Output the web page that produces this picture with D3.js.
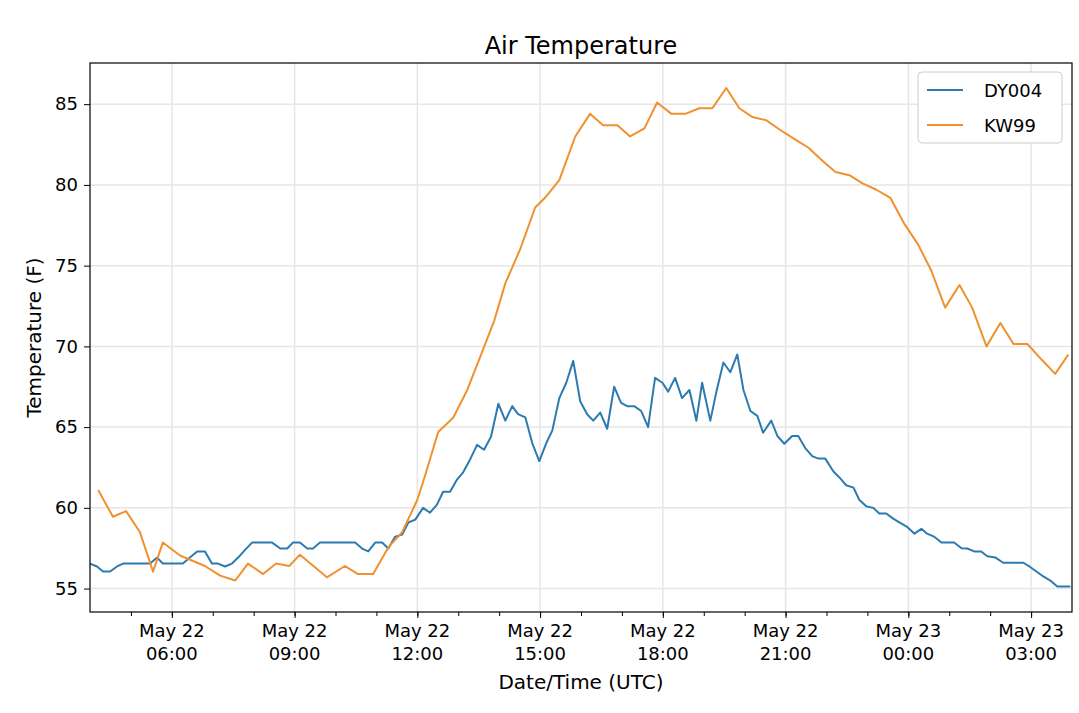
<!DOCTYPE html>
<html>
<head>
<meta charset="UTF-8">
<script src="https://d3js.org/d3.v7.min.js"></script>
<style>
  body { margin: 0; background: #fff; }
  svg { font-family: "DejaVu Sans", sans-serif; }
</style>
</head>
<body>
<svg width="1079" height="713"></svg>
<script>
// hours after 2019-05-22 00:00 UTC
const dyHours = [4.00,4.17,4.32,4.49,4.66,4.81,5.47,5.64,5.78,6.27,6.44,6.62,6.81,6.98,7.13,7.30,7.47,7.62,7.79,7.96,8.45,8.65,8.82,8.96,9.13,9.31,9.45,9.62,10.48,10.65,10.80,10.97,11.14,11.29,11.46,11.63,11.78,11.95,12.14,12.31,12.48,12.63,12.80,12.97,13.12,13.29,13.46,13.63,13.80,13.98,14.15,14.32,14.46,14.64,14.81,14.98,15.15,15.30,15.47,15.64,15.81,15.98,16.15,16.30,16.47,16.64,16.81,16.98,17.13,17.30,17.47,17.64,17.81,17.99,18.13,18.30,18.47,18.65,18.82,18.96,19.16,19.31,19.48,19.65,19.82,19.97,20.14,20.31,20.45,20.65,20.80,20.97,21.16,21.31,21.48,21.65,21.80,21.97,22.17,22.31,22.48,22.66,22.80,22.97,23.14,23.29,23.46,23.63,23.78,23.98,24.15,24.32,24.46,24.64,24.81,25.12,25.30,25.44,25.61,25.78,25.93,26.13,26.32,26.81,26.96,27.13,27.30,27.47,27.64,27.96];
const dyTemps = [56.55,56.37,56.06,56.06,56.37,56.55,56.55,56.92,56.55,56.55,56.92,57.3,57.3,56.55,56.55,56.37,56.55,56.92,57.4,57.85,57.85,57.48,57.48,57.85,57.85,57.48,57.48,57.85,57.85,57.48,57.3,57.85,57.85,57.48,58.22,58.34,59.09,59.27,60.0,59.7,60.2,61.0,61.0,61.75,62.2,63.0,63.9,63.6,64.4,66.45,65.4,66.3,65.8,65.6,64.0,62.9,64.0,64.8,66.8,67.75,69.1,66.6,65.8,65.4,65.9,64.9,67.5,66.5,66.3,66.3,66.0,65.0,68.05,67.75,67.2,68.05,66.8,67.3,65.4,67.75,65.4,67.2,69.0,68.4,69.5,67.3,66.0,65.7,64.65,65.4,64.45,63.97,64.45,64.45,63.7,63.2,63.05,63.05,62.25,61.9,61.4,61.25,60.5,60.1,60.0,59.65,59.65,59.33,59.1,58.8,58.4,58.7,58.4,58.2,57.85,57.85,57.5,57.48,57.3,57.3,57.0,56.92,56.6,56.6,56.37,56.06,55.75,55.5,55.13,55.13];

const kwHours = [4.20,4.56,4.88,5.22,5.54,5.78,6.20,6.81,7.18,7.55,7.86,8.23,8.55,8.87,9.13,9.79,10.23,10.55,10.92,11.29,11.63,12.00,12.19,12.51,12.88,13.22,13.56,13.88,14.15,14.51,14.88,15.12,15.47,15.86,16.22,16.54,16.89,17.20,17.55,17.86,18.21,18.55,18.89,19.21,19.55,19.87,20.19,20.53,20.87,21.24,21.56,21.90,22.22,22.56,22.88,23.22,23.56,23.90,24.24,24.56,24.90,25.25,25.56,25.91,26.25,26.57,26.91,27.25,27.59,27.91];
const kwTemps = [61.1,59.45,59.8,58.5,56.05,57.85,57.05,56.4,55.8,55.5,56.55,55.9,56.55,56.4,57.1,55.7,56.4,55.9,55.9,57.55,58.5,60.5,62.0,64.7,65.6,67.3,69.5,71.6,73.9,76.0,78.6,79.2,80.3,83.0,84.4,83.7,83.7,83.0,83.5,85.1,84.4,84.4,84.75,84.75,86.0,84.75,84.2,84.0,83.4,82.8,82.3,81.5,80.8,80.6,80.1,79.7,79.2,77.6,76.3,74.7,72.4,73.8,72.4,70.0,71.45,70.15,70.15,69.2,68.3,69.5];

const seriesNames = ["DY004", "KW99"];
const seriesColors = ["#2c7bb0", "#f0912e"];
const yTicks = [55, 60, 65, 70, 75, 80, 85];

const base = Date.UTC(2019, 4, 22);
const toDate = h => new Date(base + h * 3600000);

const svg = d3.select("svg");
const margin = { top: 63, right: 7, bottom: 101, left: 90 };
const W = 1079, H = 713;

const x = d3.scaleUtc()
  .domain([toDate(4), toDate(28)])
  .range([margin.left, W - margin.right]);
const y = d3.scaleLinear()
  .domain([53.55, 87.55])
  .range([H - margin.bottom, margin.top]);

const majors = d3.range(6, 28, 3).map(toDate);
const minors = d3.range(5, 28, 1).map(toDate);

// grid
svg.append("g").selectAll("line").data(majors).join("line")
  .attr("x1", d => x(d)).attr("x2", d => x(d))
  .attr("y1", margin.top).attr("y2", H - margin.bottom)
  .attr("stroke", "#e6e6e6").attr("stroke-width", 1.5);
svg.append("g").selectAll("line").data(yTicks).join("line")
  .attr("x1", margin.left).attr("x2", W - margin.right)
  .attr("y1", d => y(d)).attr("y2", d => y(d))
  .attr("stroke", "#e6e6e6").attr("stroke-width", 1.5);

// lines
const line = d3.line().x(d => x(toDate(d[0]))).y(d => y(d[1]));
const series = [d3.zip(dyHours, dyTemps), d3.zip(kwHours, kwTemps)];
series.forEach((s, i) => {
  svg.append("path").datum(s)
    .attr("fill", "none").attr("stroke", seriesColors[i])
    .attr("stroke-width", 2).attr("stroke-linejoin", "round")
    .attr("d", line);
});

// frame
svg.append("rect")
  .attr("x", margin.left).attr("y", margin.top)
  .attr("width", W - margin.left - margin.right)
  .attr("height", H - margin.top - margin.bottom)
  .attr("fill", "none").attr("stroke", "#000").attr("stroke-width", 1.2);

// x axis
const xg = svg.append("g").attr("transform", `translate(0,${H - margin.bottom})`);
xg.call(d3.axisBottom(x).tickValues(minors).tickSize(4).tickFormat(""));
const xMaj = svg.append("g").attr("transform", `translate(0,${H - margin.bottom})`)
  .call(d3.axisBottom(x).tickValues(majors).tickSize(6).tickFormat(""));
[xg, xMaj].forEach(g => { g.select(".domain").remove(); g.selectAll("line").attr("stroke", "#000"); });
const fmtD = d3.utcFormat("%b %d"), fmtT = d3.utcFormat("%H:%M");
const lbl = svg.append("g").selectAll("text").data(majors).join("text")
  .attr("x", d => x(d)).attr("text-anchor", "middle")
  .attr("font-size", 18).attr("fill", "#000");
lbl.append("tspan").attr("x", d => x(d)).attr("y", 637).text(fmtD);
lbl.append("tspan").attr("x", d => x(d)).attr("y", 660).text(fmtT);

// y axis
const yg = svg.append("g").attr("transform", `translate(${margin.left},0)`)
  .call(d3.axisLeft(y).tickValues(yTicks).tickSize(6).tickPadding(6));
yg.select(".domain").remove();
yg.selectAll("line").attr("stroke", "#000");
yg.selectAll("text").attr("font-size", 18).attr("fill", "#000")
  .attr("font-family", "DejaVu Sans, sans-serif");

// labels
svg.append("text").attr("x", (margin.left + W - margin.right) / 2).attr("y", 54)
  .attr("text-anchor", "middle").attr("font-size", 24).text("Air Temperature");
svg.append("text").attr("x", (margin.left + W - margin.right) / 2).attr("y", 689)
  .attr("text-anchor", "middle").attr("font-size", 20).text("Date/Time (UTC)");
svg.append("text").attr("transform", `translate(41,${(margin.top + H - margin.bottom) / 2}) rotate(-90)`)
  .attr("text-anchor", "middle").attr("font-size", 20).text("Temperature (F)");

// legend
const lg = svg.append("g").attr("transform", "translate(918,72)");
lg.append("rect").attr("width", 144).attr("height", 71).attr("rx", 4)
  .attr("fill", "#fff").attr("stroke", "#ccc");
seriesNames.forEach((n, i) => {
  lg.append("line").attr("x1", 9).attr("x2", 45).attr("y1", 18 + i * 35).attr("y2", 18 + i * 35)
    .attr("stroke", seriesColors[i]).attr("stroke-width", 2);
  lg.append("text").attr("x", 66).attr("y", 25 + i * 35).attr("font-size", 18).text(n);
});
</script>
</body>
</html>
